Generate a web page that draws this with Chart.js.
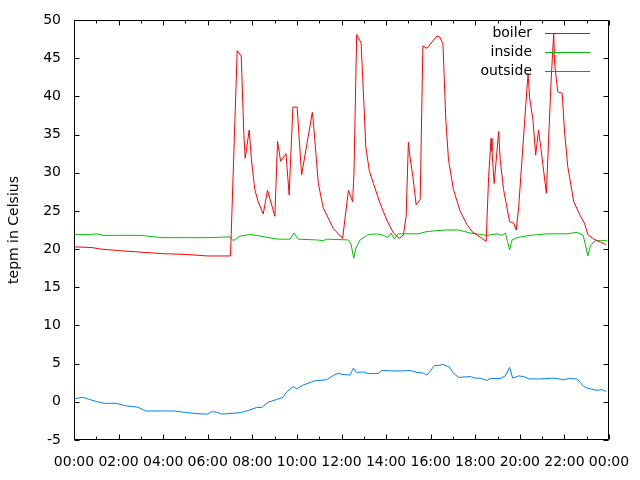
<!DOCTYPE html>
<html>
<head>
<meta charset="utf-8">
<script src="https://cdn.jsdelivr.net/npm/chart.js@4.4.1/dist/chart.umd.min.js"></script>
<style>
	html,body{margin:0;padding:0;background:#fff;}
</style>
</head>
<body>
<canvas id="ctx" width="640" height="480"></canvas>
<script>
// readings, hour of day -> degrees
var boilerHours = [0,0.8,1.2,2.0,3.0,4.0,5.0,6.0,7.02,7.32,7.50,7.62,7.68,7.86,7.96,8.11,8.26,8.49,8.68,9.01,9.13,9.27,9.51,9.65,9.82,10.01,10.21,10.69,10.73,10.96,11.18,11.63,12.05,12.31,12.50,12.56,12.68,12.88,13.01,13.09,13.25,13.43,13.73,14.03,14.33,14.60,14.78,14.90,15.00,15.05,15.20,15.35,15.53,15.65,15.83,16.28,16.40,16.55,16.68,16.80,17.02,17.33,17.63,17.85,18.30,18.49,18.60,18.71,18.75,18.85,19.05,19.12,19.27,19.54,19.72,19.84,19.95,20.25,20.37,20.44,20.59,20.71,20.84,21.00,21.19,21.40,21.52,21.56,21.70,21.90,22.00,22.15,22.42,22.72,22.90,23.05,23.32,23.62,23.87];
var boilerTemps = [20.3,20.2,20.0,19.8,19.6,19.4,19.3,19.1,19.1,46.0,45.3,35.0,31.9,35.6,31.7,27.8,26.2,24.6,27.7,24.3,34.1,31.5,32.5,27.1,38.6,38.6,29.7,37.9,36.9,28.6,25.4,22.7,21.4,27.7,26.2,30.0,48.1,47.0,38.7,33.4,30.2,28.6,26.0,23.8,22.1,21.4,21.9,24.3,34.0,32.5,29.5,25.8,26.5,46.6,46.3,47.9,47.8,46.9,36.9,31.7,27.8,24.9,23.2,22.3,21.4,21.0,29.5,34.5,32.8,28.6,35.4,31.7,27.8,23.6,23.4,22.5,25.6,38.2,43.0,39.8,36.9,32.3,35.6,31.9,27.3,41.9,48.3,44.3,40.6,40.4,35.6,30.8,26.2,24.3,23.4,21.9,21.3,20.9,20.6];

var insideHours = [0,0.7,1.0,1.3,2.0,3.0,3.6,4.0,5.0,6.0,7.0,7.14,7.44,7.89,8.19,8.71,9.16,9.69,9.87,10.06,10.89,11.18,11.33,12.31,12.43,12.55,12.64,12.83,13.20,13.58,13.88,14.08,14.22,14.37,14.53,14.71,15.45,15.83,16.65,17.25,17.78,18.53,18.98,19.20,19.35,19.45,19.54,19.65,19.87,20.47,21.22,22.12,22.57,22.84,22.94,23.05,23.17,23.39,23.92];
var insideTemps = [21.9,21.9,22.0,21.8,21.8,21.8,21.6,21.5,21.5,21.5,21.6,21.1,21.7,21.9,21.8,21.5,21.3,21.3,22.1,21.3,21.2,21.1,21.3,21.2,20.6,18.8,20.1,21.2,21.9,22.0,21.8,21.5,22.1,21.3,22.0,22.0,22.0,22.3,22.5,22.5,22.1,21.8,22.0,21.8,22.1,21.0,19.9,21.2,21.5,21.8,22.0,22.0,22.2,21.8,20.6,19.1,20.5,21.1,21.1];

var outsideHours = [0,0.40,0.70,1.00,1.37,1.90,2.27,2.87,3.21,3.99,4.52,4.89,5.34,5.79,6.01,6.17,6.39,6.62,7.14,7.51,7.74,8.19,8.41,8.71,9.09,9.38,9.54,9.83,9.99,10.28,10.81,11.33,11.63,11.86,12.01,12.38,12.53,12.68,12.98,13.20,13.65,13.81,14.26,14.71,15.08,15.38,15.68,15.83,15.98,16.16,16.35,16.53,16.84,17.02,17.25,17.78,18.00,18.22,18.53,18.67,19.12,19.35,19.54,19.68,19.95,20.17,20.40,20.92,21.52,21.97,22.19,22.57,22.87,23.02,23.47,23.69,23.87];
var outsideTemps = [0.4,0.6,0.3,0.05,-0.2,-0.2,-0.5,-0.7,-1.2,-1.2,-1.2,-1.35,-1.5,-1.6,-1.6,-1.3,-1.35,-1.6,-1.5,-1.4,-1.2,-0.75,-0.75,-0.05,0.3,0.6,1.3,2.0,1.7,2.2,2.75,2.9,3.45,3.75,3.6,3.5,4.4,3.85,3.9,3.7,3.7,4.1,4.05,4.05,4.1,3.85,3.75,3.5,4.0,4.75,4.75,4.9,4.55,3.75,3.2,3.3,3.1,3.1,2.8,3.05,3.05,3.4,4.5,3.1,3.4,3.3,3.0,3.0,3.1,2.9,3.05,3.0,2.0,1.8,1.5,1.6,1.35];

var seriesNames = ['boiler','inside','outside'];
var seriesColors = ['#ff0000','#00c000','#0080ff'];
var yTicks = [-5,0,5,10,15,20,25,30,35,40,45,50];

var FONT = {family:'"DejaVu Sans"',size:14};

function points(hours,temps){
	var out = [];
	for(var i = 0 ; i<hours.length ; i++){
		out.push({x:hours[i],y:temps[i]});
	}
	return out;
}

function hourLabel(v){
	var h = v % 24;
	return (h<10 ? '0' : '') + h + ':00';
}

// gnuplot style frame: border, inward ticks, mirrored on top/right
var frame = {
	id:'frame',
	afterDatasetsDraw:function(chart){
		var ctx = chart.ctx;
		var a = chart.chartArea;
		var xs = chart.scales.x;
		var ys = chart.scales.y;
		var l = Math.round(a.left)+0.5, r = Math.round(a.right)-0.5;
		var t = Math.round(a.top)+0.5, b = Math.round(a.bottom)-0.5;
		ctx.save();
		ctx.strokeStyle = '#000';
		ctx.lineWidth = 1;
		ctx.beginPath();
		ctx.rect(l,t,r-l,b-t);
		for(var h = 0 ; h<=24 ; h++){
			var px = Math.round(xs.getPixelForValue(h))+0.5;
			var len = h%2 ? 3 : 5;
			ctx.moveTo(px,b); ctx.lineTo(px,b-len);
			ctx.moveTo(px,t); ctx.lineTo(px,t+len);
		}
		yTicks.forEach(function(v){
			var py = Math.round(ys.getPixelForValue(v))+0.5;
			ctx.moveTo(l,py); ctx.lineTo(l+5,py);
			ctx.moveTo(r,py); ctx.lineTo(r-5,py);
		});
		ctx.stroke();

		// key, text left of sample line
		ctx.font = '14px "DejaVu Sans"';
		ctx.fillStyle = '#000';
		ctx.textAlign = 'right';
		ctx.textBaseline = 'middle';
		chart.data.datasets.forEach(function(ds,i){
			var y = 33.5 + i*19;
			ctx.fillText(ds.label,532,y);
			ctx.strokeStyle = ds.borderColor;
			ctx.beginPath();
			ctx.moveTo(545,y); ctx.lineTo(590,y);
			ctx.stroke();
		});
		ctx.restore();
	}
};

var allHours = [boilerHours,insideHours,outsideHours];
var allTemps = [boilerTemps,insideTemps,outsideTemps];
var datasets = [];
for(var i = 0 ; i<seriesNames.length ; i++){
	datasets.push({
		label:seriesNames[i],
		data:points(allHours[i],allTemps[i]),
		borderColor:seriesColors[i],
		backgroundColor:seriesColors[i],
		borderWidth:1,
		pointRadius:0,
		tension:0,
		fill:false
	});
}

new Chart(document.getElementById('ctx'),{
	type:'line',
	data:{datasets:datasets},
	plugins:[frame],
	options:{
		responsive:false,
		animation:false,
		layout:{padding:{left:0,top:20,right:31,bottom:0}},
		plugins:{legend:{display:false},tooltip:{enabled:false}},
		scales:{
			x:{
				type:'linear',
				min:0,max:24,
				grid:{display:false},
				border:{display:false},
				ticks:{stepSize:2,autoSkip:false,maxRotation:0,padding:6,color:'#000',font:FONT,callback:hourLabel},
				afterFit:function(s){ s.height = 40; }
			},
			y:{
				min:-5,max:50,
				grid:{display:false},
				border:{display:false},
				ticks:{stepSize:5,padding:5,color:'#000',font:FONT},
				title:{display:true,text:'tepm in Celsius',color:'#000',font:FONT,padding:{top:6,bottom:0}},
				afterFit:function(s){ s.width = 74; }
			}
		}
	}
});
</script>
</body>
</html>
